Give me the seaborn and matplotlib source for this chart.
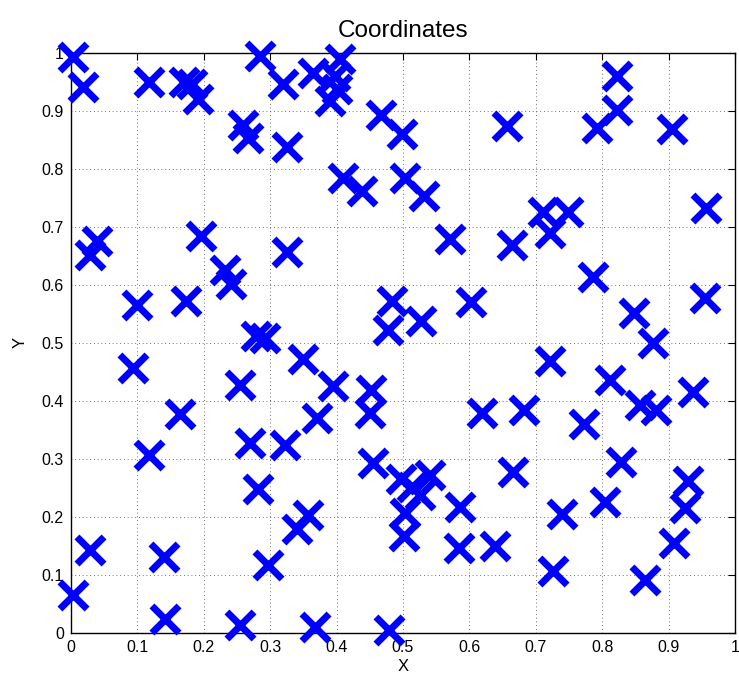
import matplotlib
matplotlib.use("Agg")
import matplotlib.pyplot as plt
import seaborn as sns
import pandas as pd
import numpy as np

x_vals = [0.003, 0.029, 0.142, 0.140, 0.117, 0.093, 0.164, 0.254, 0.255, 0.269,
          0.281, 0.297, 0.322, 0.340, 0.357, 0.367, 0.370, 0.349, 0.394, 0.452,
          0.450, 0.455, 0.479, 0.278, 0.292, 0.003, 0.018, 0.039, 0.028, 0.118,
          0.170, 0.182, 0.192, 0.196, 0.099, 0.174, 0.232, 0.2405, 0.2595, 0.267,
          0.285, 0.320, 0.326, 0.325, 0.365, 0.405, 0.398, 0.400, 0.390, 0.409,
          0.438, 0.467, 0.498, 0.503, 0.532, 0.571, 0.664, 0.657, 0.711, 0.721,
          0.749, 0.792, 0.823, 0.822, 0.905, 0.957, 0.786, 0.955, 0.848, 0.877,
          0.602, 0.527, 0.483, 0.477, 0.721, 0.811, 0.937, 0.857, 0.881, 0.619,
          0.682, 0.773, 0.828, 0.665, 0.929, 0.925, 0.804, 0.739, 0.586, 0.585,
          0.639, 0.726, 0.908, 0.8645, 0.497, 0.513, 0.541, 0.526, 0.503, 0.501]
y_vals = [0.065, 0.143, 0.024, 0.131, 0.307, 0.456, 0.377, 0.014, 0.428, 0.327,
          0.249, 0.117, 0.324, 0.179, 0.203, 0.011, 0.370, 0.472, 0.425, 0.419,
          0.380, 0.293, 0.006, 0.512, 0.508, 0.992, 0.941, 0.675, 0.651, 0.949,
          0.950, 0.946, 0.920, 0.685, 0.566, 0.573, 0.626, 0.602, 0.876, 0.853,
          0.994, 0.947, 0.837, 0.656, 0.965, 0.990, 0.960, 0.938, 0.917, 0.784,
          0.761, 0.893, 0.860, 0.784, 0.754, 0.679, 0.669, 0.874, 0.726, 0.689,
          0.726, 0.871, 0.960, 0.902, 0.868, 0.732, 0.614, 0.577, 0.552, 0.500,
          0.570, 0.537, 0.572, 0.522, 0.468, 0.436, 0.416, 0.393, 0.384, 0.379,
          0.384, 0.360, 0.295, 0.278, 0.262, 0.215, 0.226, 0.205, 0.218, 0.146,
          0.150, 0.107, 0.155, 0.091, 0.265, 0.252, 0.272, 0.238, 0.206, 0.168]

tick_vals = [0, 0.1, 0.2, 0.3, 0.4, 0.5, 0.6, 0.7, 0.8, 0.9, 1]
tick_labels = ["0", "0.1", "0.2", "0.3", "0.4", "0.5", "0.6", "0.7", "0.8", "0.9", "1"]

df = pd.DataFrame({"X": x_vals, "Y": y_vals})

sns.set_style("white")
plt.rcParams["font.family"] = ["Liberation Sans", "DejaVu Sans"]
plt.rcParams["text.color"] = "black"
plt.rcParams["axes.labelcolor"] = "black"
plt.rcParams["xtick.color"] = "black"
plt.rcParams["ytick.color"] = "black"

fig = plt.figure(figsize=(7.39, 6.81), dpi=100)
ax = fig.add_axes([0.096, 0.0705, 0.8986, 0.852])

sns.scatterplot(data=df, x="X", y="Y", marker="x", s=380, color="#0000ff",
                linewidth=5, ax=ax, zorder=3, clip_on=False)

ax.set_xlim(0, 1)
ax.set_ylim(0, 1)
ax.set_xticks(tick_vals)
ax.set_xticklabels(tick_labels)
ax.set_yticks(tick_vals)
ax.set_yticklabels(tick_labels)
ax.grid(True, linestyle=(0, (1, 3.5)), color="#444444", linewidth=0.6)
ax.tick_params(direction="in", length=5, width=0.8, top=True, right=True,
               labelsize=11.5, colors="black", pad=5)
for sp in ax.spines.values():
    sp.set_color("black")
    sp.set_linewidth(1.0)
    sp.set_visible(True)

ax.set_title("Coordinates", fontsize=17.5, pad=11, color="black")
ax.set_xlabel("X", fontsize=12, labelpad=3, color="black")
ax.set_ylabel("Y", fontsize=12, labelpad=10, color="black")

fig.savefig("out.png", dpi=100)
